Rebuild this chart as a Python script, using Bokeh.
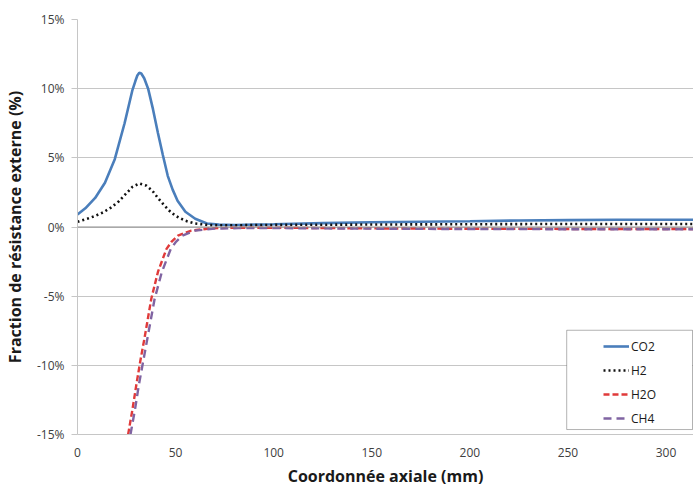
from bokeh.plotting import figure
from bokeh.models import (Range1d, Legend, LegendItem, PrintfTickFormatter, FixedTicker,
                          Span, BoxAnnotation)
from bokeh.embed import file_html
from bokeh.resources import INLINE

# ---- data ----
x_co2 = [0, 4, 9, 14, 19, 24, 28, 29.5, 30.5, 31.5, 32.5, 34, 36, 38.5, 41, 43.5, 46, 48.5,
         51, 55, 60, 66, 72, 80, 100, 125, 150, 175, 200, 225, 250, 275, 300, 315]
co2 = [0.9, 1.35, 2.1, 3.2, 4.9, 7.5, 9.9, 10.55, 10.95, 11.15, 11.1, 10.75, 10.0, 8.5, 6.8,
       5.2, 3.7, 2.7, 1.9, 1.1, 0.6, 0.25, 0.17, 0.15, 0.2, 0.28, 0.34, 0.38, 0.42, 0.47,
       0.5, 0.52, 0.52, 0.52]

x_h2 = [0, 5, 9, 13, 17, 21, 25, 28, 31.5, 35, 38, 41, 44, 47, 50, 55, 60, 67, 75, 100,
        150, 200, 250, 315]
h2 = [0.38, 0.6, 0.8, 1.05, 1.4, 1.85, 2.45, 2.9, 3.15, 3.0, 2.65, 2.1, 1.6, 1.15, 0.8, 0.45,
      0.25, 0.14, 0.12, 0.15, 0.18, 0.2, 0.22, 0.22]

x_h2o = [25.8, 28, 30, 32, 34.2, 37.6, 41, 45.3, 48, 51.2, 58, 68, 80, 100, 150, 200, 250, 315]
h2o = [-15, -13.2, -11.4, -9.7, -8.0, -5.2, -3.25, -1.6, -1.05, -0.62, -0.26, -0.1, -0.05,
       -0.05, -0.1, -0.13, -0.14, -0.14]

x_ch4 = [27.0, 29.3, 31.3, 33.5, 35.7, 39.3, 43.0, 47.5, 50.3, 53.5, 60, 70, 82, 100, 150,
         200, 250, 315]
ch4 = [-15, -13.2, -11.4, -9.7, -8.0, -5.2, -3.25, -1.6, -1.05, -0.62, -0.26, -0.12, -0.08,
       -0.08, -0.12, -0.15, -0.16, -0.16]

y_ticks = [-15, -10, -5, 0, 5, 10, 15]
x_ticks = [0, 50, 100, 150, 200, 250, 300]
series_names = ["CO2", "H2", "H2O", "CH4"]

# ---- layout constants (pixels) ----
W, H = 693, 489
B_LEFT, B_RIGHT, B_TOP, B_BOTTOM = 76, 0, 19, 52
FRAME_W = W - B_LEFT - B_RIGHT
FRAME_H = H - B_TOP - B_BOTTOM
X_START, X_END = 0.0, 314.0
Y_START, Y_END = -15.0, 15.0

FONT = "Open Sans"
GRID = "#c6c6c6"
TICK_TXT = "#404040"

p = figure(width=W, height=H, output_backend="svg", toolbar_location=None,
           x_range=Range1d(X_START, X_END), y_range=Range1d(Y_START, Y_END),
           min_border_left=B_LEFT, min_border_right=B_RIGHT,
           min_border_top=B_TOP, min_border_bottom=B_BOTTOM)
p.outline_line_color = None
p.background_fill_color = "white"
p.border_fill_color = "white"

# grid
p.xgrid.visible = False
p.ygrid.ticker = FixedTicker(ticks=y_ticks)
p.ygrid.grid_line_color = GRID
p.ygrid.grid_line_width = 1

# axes
p.yaxis.ticker = FixedTicker(ticks=y_ticks)
p.yaxis.formatter = PrintfTickFormatter(format="%d%%")
p.xaxis.ticker = FixedTicker(ticks=x_ticks)
for ax in (p.xaxis[0], p.yaxis[0]):
    ax.axis_line_color = GRID
    ax.major_tick_line_color = GRID
    ax.minor_tick_line_color = None
    ax.major_label_text_font = FONT
    ax.major_label_text_font_size = "12px"
    ax.major_label_text_color = TICK_TXT
    ax.axis_label_text_font = FONT
    ax.axis_label_text_font_style = "bold"
    ax.axis_label_text_color = "#1a1a1a"
    ax.axis_label_text_font_size = "16px"
p.yaxis.major_tick_in = 0
p.yaxis.major_tick_out = 6
p.yaxis.major_label_standoff = 7
p.yaxis.axis_label_standoff = 8
p.xaxis.major_tick_in = 0
p.xaxis.major_tick_out = 0
p.xaxis.major_label_standoff = 13
p.xaxis.axis_label_standoff = 5
p.xaxis.axis_label = "Coordonnée axiale (mm)"
p.yaxis.axis_label = "Fraction de résistance externe (%)"

# zero line
p.add_layout(Span(location=0, dimension="width", line_color="#8c8c8c", line_width=1))

# series
r_co2 = p.line(x_co2, co2, line_color="#4a7ebb", line_width=2.6)
r_h2 = p.line(x_h2, h2, line_color="#111111", line_width=2.6, line_dash="2 3")
r_h2o = p.line(x_h2o, h2o, line_color="#e03a3a", line_width=2.4, line_dash="6 3")
r_ch4 = p.line(x_ch4, ch4, line_color="#8064a2", line_width=2.4, line_dash="8 5")

# legend frame (pixel offsets inside the plot frame, converted to data units)
mm_per_px = (X_END - X_START) / FRAME_W
pct_per_px = (Y_END - Y_START) / FRAME_H
LG_LEFT_PX, LG_RIGHT_PX, LG_BOTTOM_PX, LG_TOP_PX = 490, FRAME_W - 1, 5, 105
box = BoxAnnotation(left=X_START + LG_LEFT_PX * mm_per_px,
                    right=X_START + LG_RIGHT_PX * mm_per_px,
                    bottom=Y_START + LG_BOTTOM_PX * pct_per_px,
                    top=Y_START + LG_TOP_PX * pct_per_px,
                    fill_color="white", fill_alpha=1.0,
                    line_color="black", line_width=1)
p.add_layout(box)

legend = Legend(items=[LegendItem(label=n, renderers=[r])
                       for n, r in zip(series_names, [r_co2, r_h2, r_h2o, r_ch4])],
                location=(526, 6), orientation="vertical",
                label_text_font=FONT, label_text_font_size="12px",
                label_text_color="#1a1a1a",
                glyph_width=26, glyph_height=20, label_standoff=2, spacing=4,
                padding=0, margin=0, label_height=20,
                border_line_color=None, background_fill_alpha=0)
p.add_layout(legend)

open("out.html", "w").write(file_html(p, INLINE))
